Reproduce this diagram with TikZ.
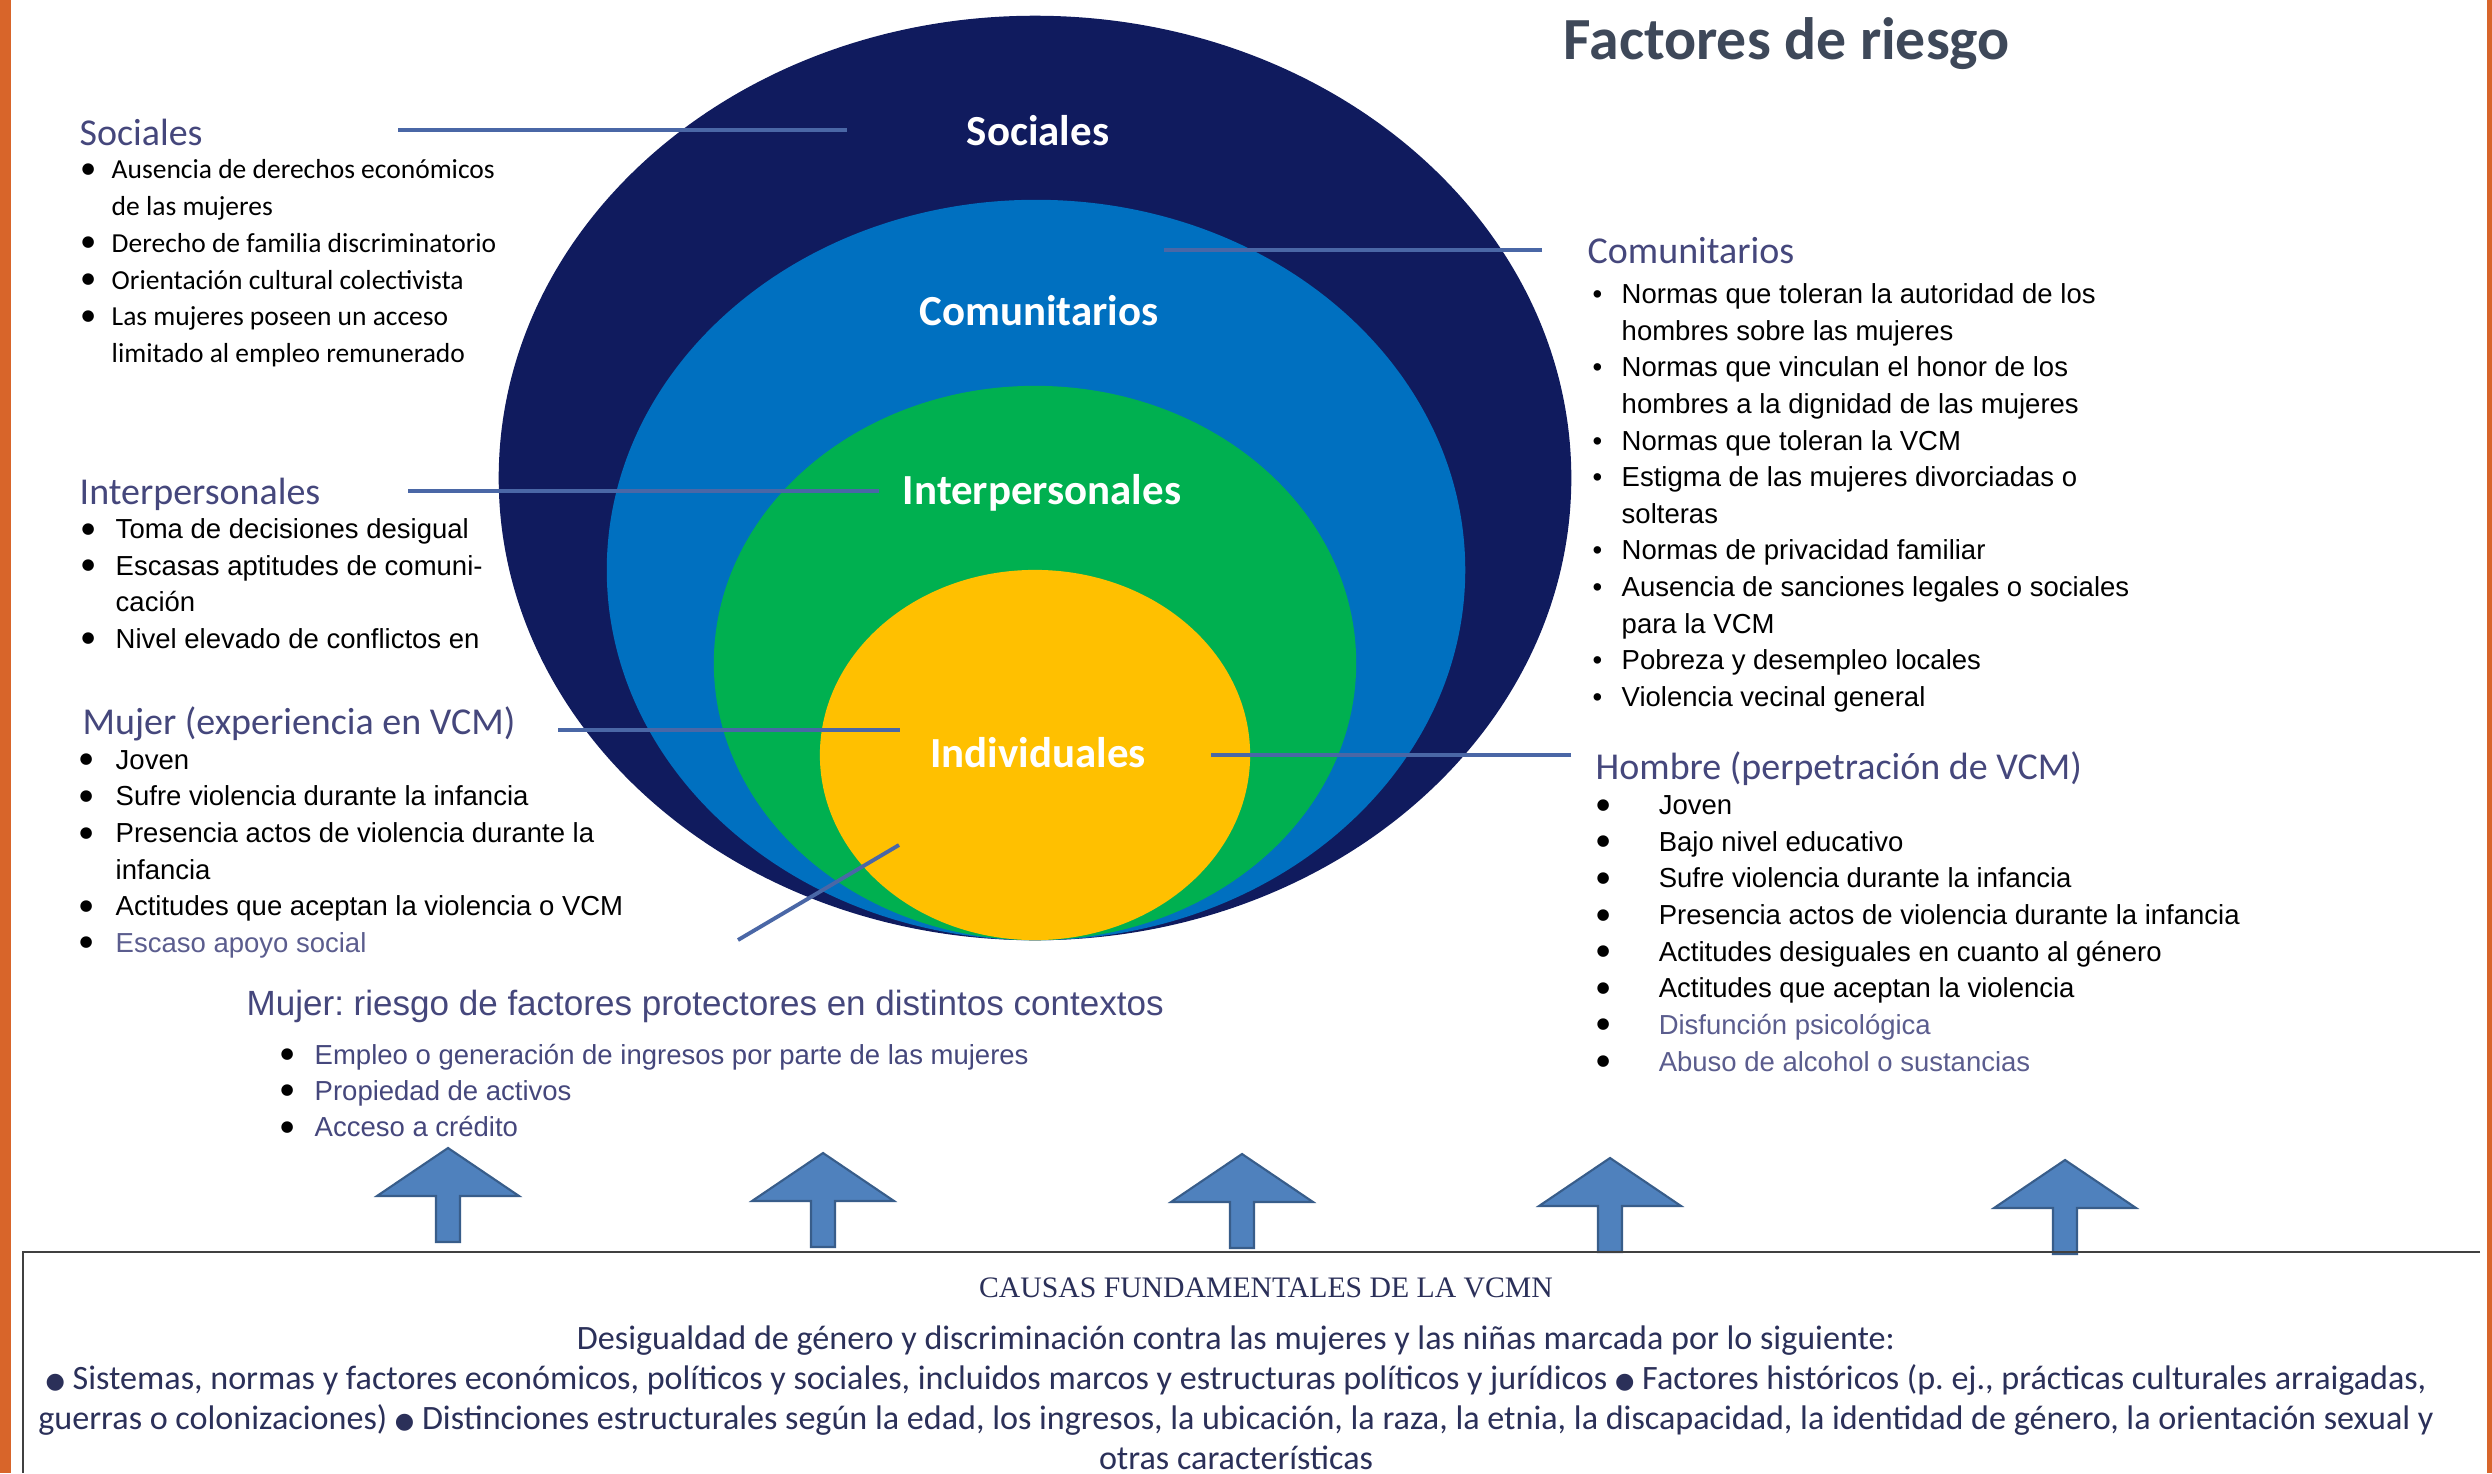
\documentclass[tikz,border=0pt]{standalone}
\usepackage{fontspec}
\usepackage{graphicx}
\setmainfont{Carlito}
\newfontfamily\arialfont{Liberation Sans}
\newfontfamily\capsfont{Liberation Serif}
\newfontfamily\dotfont{DejaVu Sans}
\frenchspacing

\definecolor{navyring}{HTML}{101B5E}
\definecolor{bluering}{HTML}{0070C0}
\definecolor{greenring}{HTML}{00B050}
\definecolor{yellowring}{HTML}{FFC000}
\definecolor{linkblue}{HTML}{4A67A6}
\definecolor{headslate}{HTML}{45477C}
\definecolor{softslate}{HTML}{5B5D8E}
\definecolor{titlegray}{HTML}{3E4859}
\definecolor{causenavy}{HTML}{2B3059}
\definecolor{arrowfill}{HTML}{4F81BD}
\definecolor{arrowedge}{HTML}{385D8A}
\definecolor{sidebar}{HTML}{D8652A}

% bullets and indents for the lists
\newcommand{\bigdot}[1]{\makebox[#1][l]{\raisebox{0.2em}{\textcolor{black}{\dotfont\scalebox{0.55}{●}}}}}
\newcommand{\smalldot}[1]{\makebox[#1][l]{\textbullet}}
\newcommand{\cont}[1]{\hspace*{#1}}
\newcommand{\causedot}{\raisebox{0.05em}{\dotfont\scalebox{0.65}{●}}}
\newcommand{\arialsize}[1]{\arialfont\fontsize{7.82}{#1}\selectfont}

\begin{document}
\begin{tikzpicture}[x=0.01cm, y=-0.01cm,
                    head/.style={anchor=base west, inner sep=0pt, text=headslate,
                                 font=\fontsize{10.8}{13}\selectfont},
                    list/.style={anchor=north west, inner sep=0pt, align=left},
                    ringlabel/.style={anchor=base, inner sep=0pt, text=white,
                                      font=\bfseries\fontsize{12.2}{14}\selectfont},
                    link/.style={draw=linkblue, line width=1.1pt},
                    uparrow/.pic={\filldraw[fill=arrowfill, draw=arrowedge, line width=0.6pt]
                                  (0,0) -- (71,48) -- (12,48) -- (12,94) -- (-12,94)
                                  -- (-12,48) -- (-71,48) -- cycle;}]
	\useasboundingbox (0,0) rectangle (2492,1473);
	\fill[white] (0,0) rectangle (2492,1473);
	\fill[sidebar] (0,0) rectangle (11,1473);
	\fill[sidebar] (2487,0) rectangle (2492,1473);

	% rings
	\fill[navyring] (1035,478) ellipse [x radius=5.36cm, y radius=4.62cm];
	\fill[bluering] (1036,570) ellipse [x radius=4.29cm, y radius=3.70cm];
	\fill[greenring] (1035,663) ellipse [x radius=3.21cm, y radius=2.77cm];
	\fill[yellowring] (1035,755) ellipse [x radius=2.15cm, y radius=1.85cm];

	\node[ringlabel] (rsoc) at (1038,146) {Sociales};
	\node[ringlabel] (rcom) at (1039,326) {Comunitarios};
	\node[ringlabel] (rinter) at (1042,504) {Interpersonales};
	\node[ringlabel] (rind) at (1038,767) {Individuales};

	\node[anchor=base west, inner sep=0pt, text=titlegray,
	      font=\bfseries\fontsize{17.0}{20}\selectfont] (title) at (1563,60) {Factores de riesgo};

	% headings
	\node[head] (hsoc) at (79,146) {Sociales};
	\node[head] (hinter) at (79,504) {Interpersonales};
	\node[head] (hmujer) at (82,734) {Mujer (experiencia en VCM)};
	\node[head] (hcom) at (1587,264) {Comunitarios};
	\node[head] (hhombre) at (1595,779) {Hombre (perpetración de VCM)};
	\node[head, font=\arialfont\fontsize{9.96}{12}\selectfont] (hprot) at (246,1015)
	      {Mujer: riesgo de factores protectores en distintos contextos};

	% lists
	\node[list, font=\fontsize{7.82}{10.47}\selectfont] (lsoc) at (81,152.2)
	      {\strut\bigdot{0.30cm}Ausencia de derechos económicos\\
	       \cont{0.30cm}de las mujeres\\
	       \bigdot{0.30cm}Derecho de familia discriminatorio\\
	       \bigdot{0.30cm}Orientación cultural colectivista\\
	       \bigdot{0.30cm}Las mujeres poseen un acceso\\
	       \cont{0.30cm}limitado al empleo remunerado};
	\node[list, font=\arialsize{10.39}] (linter) at (81,512.5)
	      {\strut\bigdot{0.34cm}Toma de decisiones desigual\\
	       \bigdot{0.34cm}Escasas aptitudes de comuni-\\
	       \cont{0.34cm}cación\\
	       \bigdot{0.34cm}Nivel elevado de conflictos en};
	\node[list, font=\arialsize{10.41}] (lmujer) at (79,743)
	      {\strut\bigdot{0.36cm}Joven\\
	       \bigdot{0.36cm}Sufre violencia durante la infancia\\
	       \bigdot{0.36cm}Presencia actos de violencia durante la\\
	       \cont{0.36cm}infancia\\
	       \bigdot{0.36cm}Actitudes que aceptan la violencia o VCM\\
	       \bigdot{0.36cm}\textcolor{softslate}{Escaso apoyo social}};
	\node[list, text=headslate, font=\arialsize{10.3}] (lprot) at (280,1038)
	      {\strut\bigdot{0.34cm}Empleo o generación de ingresos por parte de las mujeres\\
	       \bigdot{0.34cm}Propiedad de activos\\
	       \bigdot{0.34cm}Acceso a crédito};
	\node[list, font=\arialsize{10.41}] (lcom) at (1592,277.4)
	      {\strut\smalldot{0.29cm}Normas que toleran la autoridad de los\\
	       \cont{0.29cm}hombres sobre las mujeres\\
	       \smalldot{0.29cm}Normas que vinculan el honor de los\\
	       \cont{0.29cm}hombres a la dignidad de las mujeres\\
	       \smalldot{0.29cm}Normas que toleran la VCM\\
	       \smalldot{0.29cm}Estigma de las mujeres divorciadas o\\
	       \cont{0.29cm}solteras\\
	       \smalldot{0.29cm}Normas de privacidad familiar\\
	       \smalldot{0.29cm}Ausencia de sanciones legales o sociales\\
	       \cont{0.29cm}para la VCM\\
	       \smalldot{0.29cm}Pobreza y desempleo locales\\
	       \smalldot{0.29cm}Violencia vecinal general};
	\node[list, font=\arialsize{10.41}] (lhombre) at (1596,788.4)
	      {\strut\bigdot{0.62cm}Joven\\
	       \bigdot{0.62cm}Bajo nivel educativo\\
	       \bigdot{0.62cm}Sufre violencia durante la infancia\\
	       \bigdot{0.62cm}Presencia actos de violencia durante la infancia\\
	       \bigdot{0.62cm}Actitudes desiguales en cuanto al género\\
	       \bigdot{0.62cm}Actitudes que aceptan la violencia\\
	       \bigdot{0.62cm}\textcolor{softslate}{Disfunción psicológica}\\
	       \bigdot{0.62cm}\textcolor{softslate}{Abuso de alcohol o sustancias}};

	% connector lines
	\coordinate (csocA) at (398,130);
	\coordinate (csocB) at (847,130);
	\coordinate (ccomA) at (1542,250);
	\coordinate (ccomB) at (1164,250);
	\coordinate (cinterA) at (408,491);
	\coordinate (cinterB) at (879,491);
	\coordinate (cmujerA) at (558,730);
	\coordinate (cmujerB) at (900,730);
	\coordinate (chombreA) at (1571,755);
	\coordinate (chombreB) at (1211,755);
	\coordinate (cprotA) at (738,940);
	\coordinate (cprotB) at (899,845);
	\path[link] (csocA) -- (csocB);
	\path[link] (ccomA) -- (ccomB);
	\path[link] (cinterA) -- (cinterB);
	\path[link] (cmujerA) -- (cmujerB);
	\path[link] (chombreA) -- (chombreB);
	\path[link] (cprotA) -- (cprotB);

	% arrows up from the causes
	\pic at (448,1148) {uparrow};
	\pic at (823,1153) {uparrow};
	\pic at (1242,1154) {uparrow};
	\pic at (1610,1158) {uparrow};
	\pic at (2065,1160) {uparrow};

	% causes box
	\coordinate (boxR) at (2480,1252);
	\coordinate (boxL) at (23,1252);
	\coordinate (boxB) at (23,1473);
	\draw[draw=black!75, line width=0.7pt] (boxR) -- (boxL) -- (boxB);
	\node[anchor=base, inner sep=0pt, text=causenavy,
	      font=\capsfont\fontsize{8.45}{10}\selectfont] (ctitle) at (1266,1297)
	      {CAUSAS FUNDAMENTALES DE LA VCMN};
	\node[anchor=north, inner sep=0pt, align=center, text=causenavy,
	      font=\fontsize{9.7}{11.38}\selectfont] (ctext) at (1236,1321)
	      {\strut Desigualdad de género y discriminación contra las mujeres y las niñas marcada por lo siguiente:\\
	       \causedot{} Sistemas, normas y factores económicos, políticos y sociales, incluidos marcos y estructuras políticos y jurídicos \causedot{} Factores históricos (p. ej., prácticas culturales arraigadas,\\
	       guerras o colonizaciones) \causedot{} Distinciones estructurales según la edad, los ingresos, la ubicación, la raza, la etnia, la discapacidad, la identidad de género, la orientación sexual y\\
	       otras características};
\end{tikzpicture}
\end{document}
